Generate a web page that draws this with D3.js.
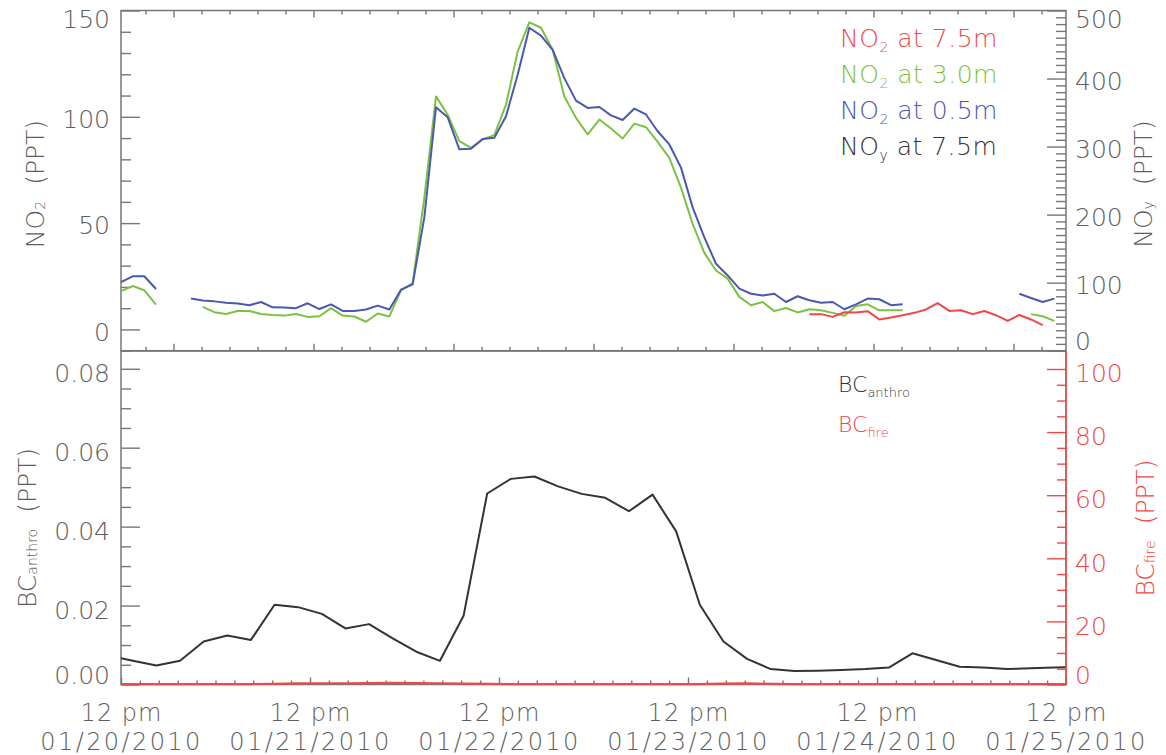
<!DOCTYPE html>
<html>
<head>
<meta charset="utf-8">
<script src="https://cdn.jsdelivr.net/npm/d3@7"></script>
<style>
  body { margin: 0; background: #fff; }
  svg { display: block; }
  text { font-family: 'DejaVu Sans', 'Open Sans', sans-serif; font-weight: 200; }
</style>
</head>
<body>
<svg id="chart" width="1166" height="755"></svg>
<script>
// ---------- data ----------
// Upper panel: NO2 samples on a regular step index (null = no measurement)
const no2At05 = [22.3, 25, 25, 19, null, null, 14.5, 13.6, 13.2, 12.6, 12.2, 11.4, 12.9, 10.4, 10.3, 10.0,
  12.3, 9.6, 11.8, 8.7, 8.7, 9.4, 11.2, 9.4, 18.7, 21.2, 52.7, 104.5, 99.8, 84.7, 85, 89.6, 90.1, 100.3,
  119.8, 141.9, 138.2, 131.5, 118.2, 107.6, 104.2, 104.6, 100.7, 98.5, 103.9, 101.1, 93.2, 87, 76.1, 57.4,
  43.3, 30.9, 25.4, 19.2, 16.8, 16, 16.8, 12.9, 15.6, 13.7, 12.6, 12.9, 9.5, 11.8, 14.5, 14.2, 11.4, 11.8,
  null, null, null, null, null, null, null, null, null, 16.8, 14.8, 12.9, 14.5];
const no2At30 = [18, 20.4, 18.4, 11.7, null, null, null, 10.6, 8.1, 7.3, 8.7, 8.7, 7.3, 6.8, 6.5, 7.3,
  5.9, 6.2, 10, 6.5, 6.1, 3.6, 7.5, 6.1, 18.4, 21.8, 62, 109.6, 101, 88.6, 85.4, 89.4, 91.4, 105.7,
  130.7, 144.4, 141.9, 131.5, 109.6, 99.5, 91.7, 98.7, 94.5, 89.8, 96.8, 95.1, 88.2, 80.7, 66.7, 49.6,
  36, 27.7, 23.9, 15.3, 11.4, 12.9, 8.6, 10.1, 8, 9.5, 9, 7.8, 6.4, 11, 11.8, 9, 9, 9,
  null, null, null, null, null, null, null, null, null, null, 7.2, 6.2, 4.0];
const no2At75 = [null, null, null, null, null, null, null, null, null, null, null, null, null, null, null, null,
  null, null, null, null, null, null, null, null, null, null, null, null, null, null, null, null, null, null,
  null, null, null, null, null, null, null, null, null, null, null, null, null, null, null, null,
  null, null, null, null, null, null, null, null, null, 7.2, 7.2, 5.9, 8.1, 8.0, 8.6, 4.7, 5.6, 6.7,
  7.8, 9.4, 12.4, 8.7, 9.0, 7.2, 8.7, 6.7, 4.0, 6.8, 4.7, 2.0, null];
const no2StepCount = 81;

// Lower panel: black carbon, 3-hourly, first sample 10:30 on 01/20/2010
const bcStart = new Date(2010, 0, 20, 10, 30);
const bcStepHours = 3;
const bcAnthro = [0.0073, 0.0060, 0.0048, 0.0060, 0.0109, 0.0124, 0.0113, 0.0202, 0.0196, 0.0179, 0.0142,
  0.0153, 0.0117, 0.0083, 0.0060, 0.0174, 0.0484, 0.0521, 0.0527, 0.0502, 0.0483, 0.0473, 0.0439, 0.0481,
  0.0388, 0.0202, 0.0109, 0.0065, 0.0039, 0.0034, 0.0035, 0.0037, 0.0039, 0.0043, 0.0079, 0.0062, 0.0045,
  0.0043, 0.0039, 0.0041, 0.0043, 0.0044];
const bcFire = [0.1, 0.1, 0.1, 0.1, 0.1, 0.1, 0.15, 0.2, 0.35, 0.4, 0.4, 0.45, 0.5, 0.45, 0.4, 0.3,
  0.2, 0.1, 0.1, 0.1, 0.1, 0.1, 0.1, 0.1, 0.1, 0.15, 0.3, 0.35, 0.2, 0.1, 0.1, 0.1, 0.1, 0.1, 0.1,
  0.1, 0.1, 0.1, 0.1, 0.1, 0.1, 0.1];

// Axis ticks and labels
const dayTicks = [20, 21, 22, 23, 24, 25].map(d => new Date(2010, 0, d, 12));
const dayLabels = ["01/20/2010", "01/21/2010", "01/22/2010", "01/23/2010", "01/24/2010", "01/25/2010"];
const hourLabel = "12 pm";
const no2Ticks = [0, 50, 100, 150];
const noyTicks = [0, 100, 200, 300, 400, 500];
const bcTicks = [0, 0.02, 0.04, 0.06, 0.08];
const fireTicks = [0, 20, 40, 60, 80, 100];

// ---------- layout ----------
const L = 121, R = 1066;
const T1 = 10.5, B1 = 350.7;
const T2 = 351, B2 = 684.5;
const GRAY = "#777", TEXT = "#5e5e5e";
const RED = "#f04848", GREEN = "#7cc242", BLUE = "#4a58b0", BLACK = "#333";

const svg = d3.select("#chart");

const xStep = d3.scaleLinear().domain([0, no2StepCount]).range([L, R]);
const yNO2 = d3.scaleLinear().domain([-10, 150]).range([B1, T1]);
const yNOy = d3.scaleLinear().domain([0, 500]).range([B1, T1]);
const xTime = d3.scaleTime().domain([dayTicks[0], dayTicks[dayTicks.length - 1]]).range([L, R]);
const yBC = d3.scaleLinear().domain([0, 0.0845]).range([B2, T2]);
const yFire = d3.scaleLinear().domain([0, 105.7]).range([B2, T2]);

const defs = svg.append("defs");
defs.append("clipPath").attr("id", "clipTop").append("rect")
  .attr("x", L).attr("y", T1).attr("width", R - L).attr("height", B1 - T1);
defs.append("clipPath").attr("id", "clipBot").append("rect")
  .attr("x", L).attr("y", T2 - 2).attr("width", R - L).attr("height", B2 - T2 + 4);

function styleAxis(g, color, width) {
  g.select(".domain").remove();
  g.selectAll(".tick line").attr("stroke", color).attr("stroke-width", width || 1.4);
  g.selectAll(".tick text").style("font-size", "25px").style("fill", color === GRAY ? TEXT : color);
}

function nudgeLabels(g, top, bottom, shift) {
  g.selectAll(".tick").each(function () {
    const t = d3.select(this);
    const m = /translate\(([^,]+),([^)]+)\)/.exec(t.attr("transform"));
    const ty = +m[2];
    const cy = Math.max(top + 9, Math.min(bottom - 9, ty + shift));
    t.select("text").attr("y", cy - ty).attr("dy", "0.35em");
  });
}

// ---------- upper panel ----------
const upper = svg.append("g");

upper.append("rect").attr("x", L).attr("y", T1).attr("width", R - L).attr("height", B1 - T1)
  .attr("fill", "none").attr("stroke", GRAY).attr("stroke-width", 1.5);

const majorStep = d3.range(4.5, no2StepCount, 12);
const minorStep = d3.range(2.1, no2StepCount, 2.4).filter(v => !majorStep.some(m => Math.abs(m - v) < 1e-6));

[[d3.axisTop, T1], [d3.axisBottom, B1]].forEach(([ax, yy]) => {
  upper.append("g").attr("transform", `translate(0,${yy})`)
    .call(ax(xStep).tickValues(majorStep).tickSize(-7).tickFormat(""))
    .call(g => styleAxis(g, GRAY));
  upper.append("g").attr("transform", `translate(0,${yy})`)
    .call(ax(xStep).tickValues(minorStep).tickSize(-4).tickFormat(""))
    .call(g => styleAxis(g, GRAY));
});

upper.append("g").attr("transform", `translate(${L},0)`)
  .call(d3.axisLeft(yNO2).tickValues(no2Ticks).tickSizeInner(-19).tickSizeOuter(0).tickPadding(11).tickFormat(d3.format("d")))
  .call(g => styleAxis(g, GRAY))
  .call(g => nudgeLabels(g, T1, B1, 2));
upper.append("g").attr("transform", `translate(${L},0)`)
  .call(d3.axisLeft(yNO2).tickValues(d3.range(-10, 151, 10).filter(v => !no2Ticks.includes(v))).tickSize(-10).tickFormat(""))
  .call(g => styleAxis(g, GRAY));

upper.append("g").attr("transform", `translate(${R},0)`)
  .call(d3.axisRight(yNOy).tickValues(noyTicks).tickSizeInner(-19).tickSizeOuter(0).tickPadding(9).tickFormat(d3.format("d")))
  .call(g => styleAxis(g, GRAY))
  .call(g => nudgeLabels(g, T1, B1, 2));
upper.append("g").attr("transform", `translate(${R},0)`)
  .call(d3.axisRight(yNOy).tickValues(d3.range(0, 501, 10).filter(v => !noyTicks.includes(v))).tickSize(-10).tickFormat(""))
  .call(g => styleAxis(g, GRAY));

const stepLine = d3.line()
  .defined(d => d != null)
  .x((d, i) => xStep(i))
  .y(d => yNO2(d));

const upperPlot = upper.append("g").attr("clip-path", "url(#clipTop)");
[[no2At30, GREEN], [no2At05, BLUE], [no2At75, RED]].forEach(([vals, c]) => {
  upperPlot.append("path").datum(vals)
    .attr("fill", "none").attr("stroke", c).attr("stroke-width", 2)
    .attr("stroke-linejoin", "round").attr("d", stepLine);
});

// rotated axis titles with a subscript
function subTitle(parent, x, y, main, sub, unit, color, size) {
  const t = parent.append("text")
    .attr("transform", `translate(${x},${y}) rotate(-90)`)
    .attr("text-anchor", "middle").attr("dominant-baseline", "central")
    .style("font-size", size + "px").style("fill", color);
  t.append("tspan").text(main);
  t.append("tspan").text(sub).style("font-size", Math.round(size * 0.55) + "px").attr("dy", "0.35em");
  t.append("tspan").text(unit).attr("dx", 16).attr("dy", "-0.2em");
  return t;
}
subTitle(svg, 35, 184, "NO", "2", "(PPT)", TEXT, 25);
subTitle(svg, 1143, 184, "NO", "y", "(PPT)", TEXT, 25);

// legend
const legendRows = [
  ["NO", "2", " at 7.5m", RED],
  ["NO", "2", " at 3.0m", GREEN],
  ["NO", "2", " at 0.5m", BLUE],
  ["NO", "y", " at 7.5m", BLACK]
];
legendRows.forEach(([a, s, b, c], i) => {
  const t = svg.append("text").attr("x", 840).attr("y", 47 + i * 36)
    .style("font-size", "25px").style("fill", c).style("letter-spacing", "0.5px");
  t.append("tspan").text(a);
  t.append("tspan").text(s).style("font-size", "14px").attr("dy", 5);
  t.append("tspan").text(b).attr("dy", -5);
});

// ---------- lower panel ----------
const lower = svg.append("g");
lower.append("rect").attr("x", L).attr("y", T2).attr("width", R - L).attr("height", B2 - T2)
  .attr("fill", "none").attr("stroke", GRAY).attr("stroke-width", 1.5);

const minorTime = d3.range(0, 5 * 24 * 60 + 1, 144)
  .map(m => d3.timeMinute.offset(dayTicks[0], m))
  .filter(d => !dayTicks.some(t => +t === +d));

lower.append("g").attr("transform", `translate(0,${B2})`)
  .call(d3.axisBottom(xTime).tickValues(minorTime).tickSize(-4).tickFormat(""))
  .call(g => styleAxis(g, GRAY));
const gTime = lower.append("g").attr("transform", `translate(0,${B2})`)
  .call(d3.axisBottom(xTime).tickValues(dayTicks).tickSizeInner(-7).tickSizeOuter(0).tickFormat(() => ""))
  .call(g => styleAxis(g, GRAY));
gTime.selectAll(".tick").each(function (d, i) {
  const tk = d3.select(this);
  tk.select("text").remove();
  tk.append("text").attr("y", 28.5).attr("dy", "0.35em").attr("text-anchor", "middle")
    .style("font-size", "24px").style("fill", TEXT).style("letter-spacing", "1px").text(hourLabel);
  tk.append("text").attr("y", 57).attr("dy", "0.35em").attr("text-anchor", "middle")
    .style("font-size", "24px").style("fill", TEXT).style("letter-spacing", "2.4px").text(dayLabels[i]);
});

lower.append("g").attr("transform", `translate(${L},0)`)
  .call(d3.axisLeft(yBC).tickValues(bcTicks).tickSizeInner(-19).tickSizeOuter(0).tickPadding(11).tickFormat(d3.format(".2f")))
  .call(g => styleAxis(g, GRAY))
  .call(g => nudgeLabels(g, T2, B2, 4));
lower.append("g").attr("transform", `translate(${L},0)`)
  .call(d3.axisLeft(yBC).tickValues(d3.range(0.005, 0.0845, 0.005).filter(v => Math.round(v * 1000) % 20 !== 0)).tickSize(-10).tickFormat(""))
  .call(g => styleAxis(g, GRAY));

const bcTime = (d, i) => xTime(d3.timeMinute.offset(bcStart, i * bcStepHours * 60));
const lowerPlot = lower.append("g").attr("clip-path", "url(#clipBot)");
lowerPlot.append("path").datum(bcAnthro)
  .attr("fill", "none").attr("stroke", BLACK).attr("stroke-width", 2).attr("stroke-linejoin", "round")
  .attr("d", d3.line().x(bcTime).y(d => yBC(d)));
lowerPlot.append("path").datum(bcFire)
  .attr("fill", "none").attr("stroke", RED).attr("stroke-width", 2.2).attr("stroke-linejoin", "round")
  .attr("d", d3.line().x(bcTime).y(d => yFire(d)));

// red BC_fire axis on the right
lower.append("line").attr("x1", R).attr("x2", R).attr("y1", T2).attr("y2", B2)
  .attr("stroke", RED).attr("stroke-width", 1.5);
lower.append("g").attr("transform", `translate(${R},0)`)
  .call(d3.axisRight(yFire).tickValues(fireTicks).tickSizeInner(-19).tickSizeOuter(0).tickPadding(9).tickFormat(d3.format("d")))
  .call(g => styleAxis(g, RED))
  .call(g => nudgeLabels(g, T2, B2, 4));
lower.append("g").attr("transform", `translate(${R},0)`)
  .call(d3.axisRight(yFire).tickValues(d3.range(5, 105, 5).filter(v => v % 20 !== 0)).tickSize(-9).tickFormat(""))
  .call(g => styleAxis(g, RED));

subTitle(svg, 27, 528, "BC", "anthro", "(PPT)", TEXT, 25);
subTitle(svg, 1145, 528, "BC", "fire", "(PPT)", RED, 25);

// lower legend
[["BC", "anthro", BLACK], ["BC", "fire", RED]].forEach(([a, s, c], i) => {
  const t = svg.append("text").attr("x", 838).attr("y", 392 + i * 40)
    .style("font-size", "22px").style("fill", c);
  t.append("tspan").text(a);
  t.append("tspan").text(s).style("font-size", "13px").attr("dy", 5);
});
</script>
</body>
</html>
